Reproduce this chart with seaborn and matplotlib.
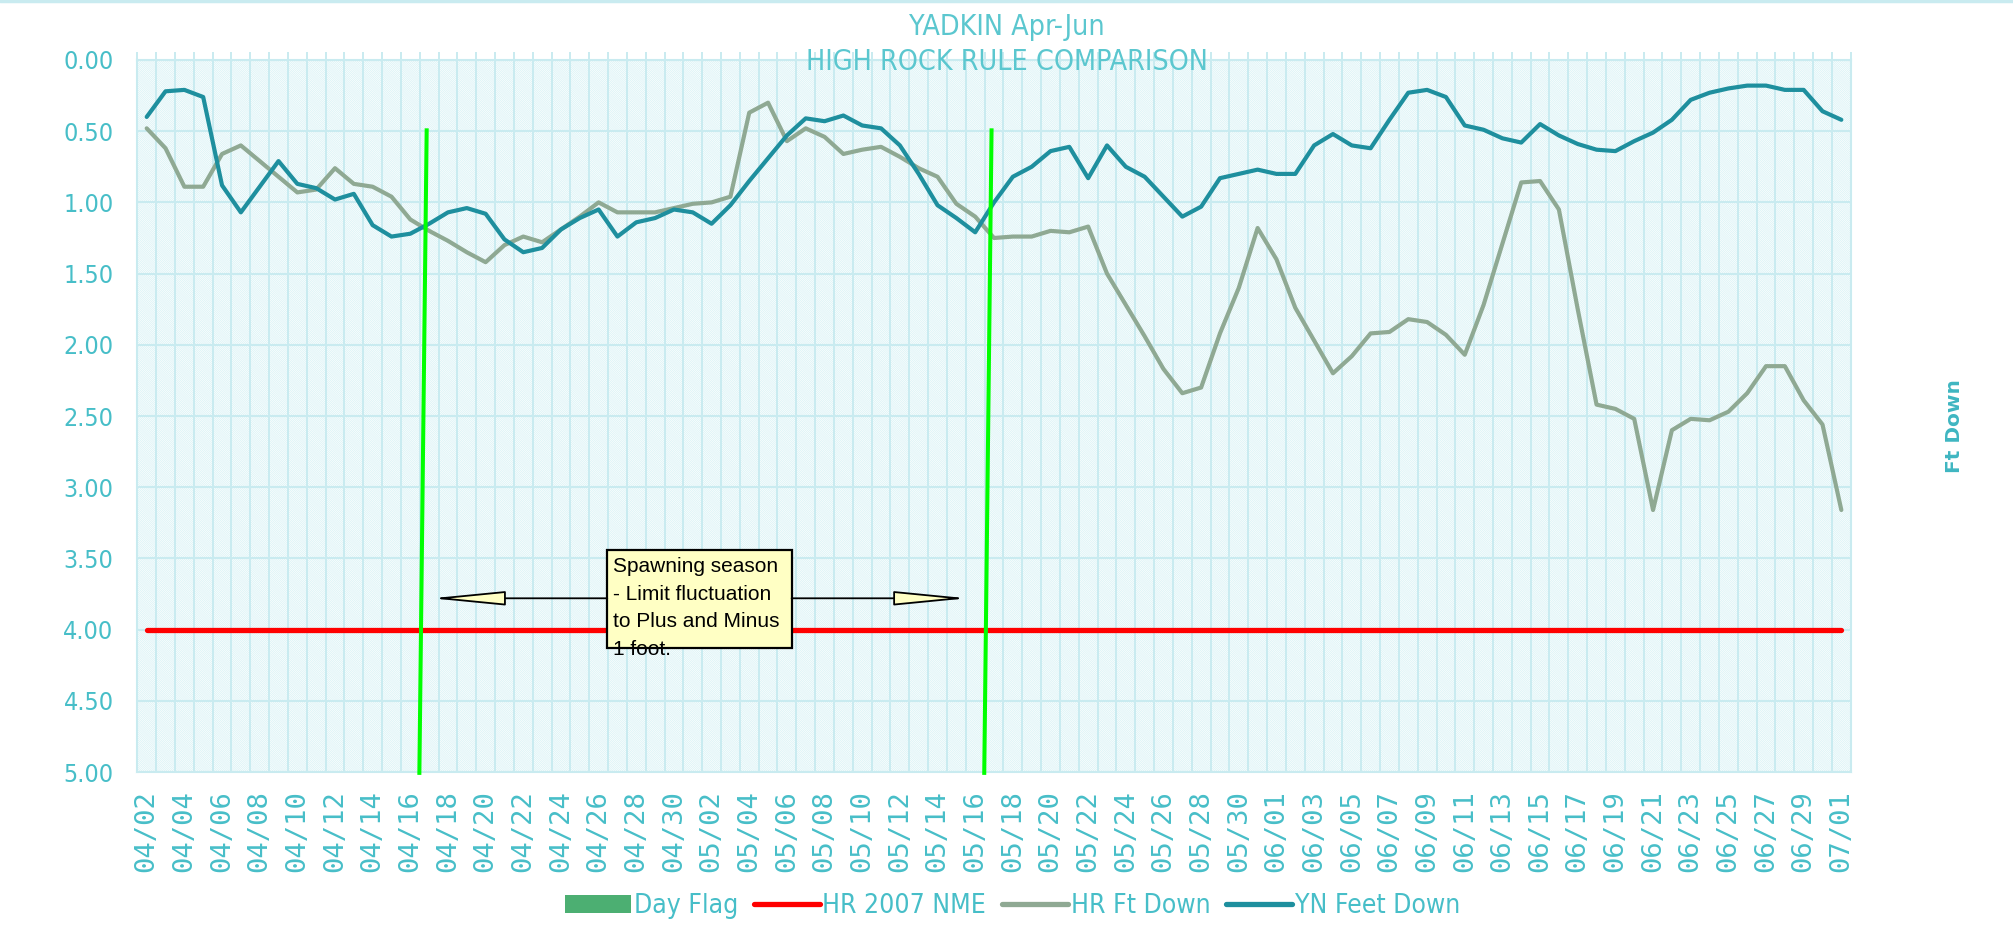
import numpy as np
import pandas as pd
import seaborn as sns
import matplotlib.pyplot as plt
from matplotlib.patches import Rectangle, Patch
import matplotlib.lines as mlines
from matplotlib import font_manager

# categories: one point per day, 04/02 .. 07/01
days = list(pd.date_range('2007-04-02', '2007-07-01').strftime('%m/%d'))

hr_ft_down = [0.48, 0.62, 0.89, 0.89, 0.66, 0.60, 0.71, 0.82, 0.93, 0.91,
              0.76, 0.87, 0.89, 0.96, 1.12, 1.20, 1.27, 1.35, 1.42, 1.30,
              1.24, 1.28, 1.19, 1.10, 1.00, 1.07, 1.07, 1.07, 1.04, 1.01,
              1.00, 0.96, 0.37, 0.30, 0.57, 0.48, 0.54, 0.66, 0.63, 0.61,
              0.68, 0.76, 0.82, 1.01, 1.10, 1.25, 1.24, 1.24, 1.20, 1.21,
              1.17, 1.50, 1.72, 1.94, 2.17, 2.34, 2.30, 1.92, 1.60, 1.18,
              1.40, 1.74, 1.97, 2.20, 2.08, 1.92, 1.91, 1.82, 1.84, 1.93,
              2.07, 1.72, 1.29, 0.86, 0.85, 1.05, 1.75, 2.42, 2.45, 2.52,
              3.16, 2.60, 2.52, 2.53, 2.47, 2.34, 2.15, 2.15, 2.39, 2.56,
              3.16]

yn_feet_down = [0.40, 0.22, 0.21, 0.26, 0.88, 1.07, 0.89, 0.71, 0.87, 0.90,
                0.98, 0.94, 1.16, 1.24, 1.22, 1.15, 1.07, 1.04, 1.08, 1.26,
                1.35, 1.32, 1.19, 1.11, 1.05, 1.24, 1.14, 1.11, 1.05, 1.07,
                1.15, 1.02, 0.85, 0.69, 0.53, 0.41, 0.43, 0.39, 0.46, 0.48,
                0.60, 0.80, 1.02, 1.11, 1.21, 1.00, 0.82, 0.75, 0.64, 0.61,
                0.83, 0.60, 0.75, 0.82, 0.96, 1.10, 1.03, 0.83, 0.80, 0.77,
                0.80, 0.80, 0.60, 0.52, 0.60, 0.62, 0.42, 0.23, 0.21, 0.26,
                0.46, 0.49, 0.55, 0.58, 0.45, 0.53, 0.59, 0.63, 0.64, 0.57,
                0.51, 0.42, 0.28, 0.23, 0.20, 0.18, 0.18, 0.21, 0.21, 0.36,
                0.42]

hr_2007_nme = [4.0] * len(days)

flag_days = ['04/17', '05/17']
flag_top = 0.48

note_text = 'Spawning season\n- Limit fluctuation\nto Plus and Minus\n1 foot.'

df = pd.DataFrame({'day': days, 'HR Ft Down': hr_ft_down,
                   'YN Feet Down': yn_feet_down, 'HR 2007 NME': hr_2007_nme})

TURQ = '#47bec8'
GRID = '#c9ebf0'
TEAL = '#1e8f9e'
GREY = '#8fa993'

sns.set_style('white')
names = {f.name for f in font_manager.fontManager.ttflist}
narrow = 'Liberation Sans Narrow' if 'Liberation Sans Narrow' in names else 'DejaVu Sans'
plt.rcParams['font.family'] = ['DejaVu Sans']
plt.rcParams['hatch.linewidth'] = 0.6
narrow_kw = dict(family=narrow, stretch='condensed')

fig = plt.figure(figsize=(20.13, 9.43), dpi=100)
ax = fig.add_axes([0.0682, 0.1813, 0.8512, 0.7551])

# hatched plot area
ax.add_patch(Rectangle((0, 0), 1, 1, transform=ax.transAxes, facecolor='white',
                       edgecolor='#dbf3f6', linewidth=0, hatch='\\' * 16, zorder=0.2))

sns.lineplot(data=df, x='day', y='HR 2007 NME', color='#ff0000', linewidth=3.8,
             sort=False, ax=ax, zorder=3)
sns.lineplot(data=df, x='day', y='HR Ft Down', color=GREY, linewidth=3.0,
             sort=False, ax=ax, zorder=4)
sns.lineplot(data=df, x='day', y='YN Feet Down', color=TEAL, linewidth=3.0,
             sort=False, ax=ax, zorder=5)

# day flag markers
for d in flag_days:
    i = days.index(d)
    ax.plot([i - 0.13, i - 0.52], [flag_top, 5.02], color='#00ff00', linewidth=2.9,
            zorder=6, clip_on=False, solid_capstyle='butt')

# spawning season note
ax.add_patch(Rectangle((24.46, 3.44), 34.25 - 24.46, 4.127 - 3.44, facecolor='#ffffc4',
                       edgecolor='black', linewidth=1.6, zorder=7))
ax.text(24.78, 3.49, note_text, fontsize=15, family='Liberation Sans', color='black',
        va='top', ha='left', zorder=8, linespacing=1.57)
arrow_kw = dict(arrowstyle='-|>,head_length=4.6,head_width=0.45', fc='#ffffc4',
                ec='black', lw=1.3, shrinkA=0, shrinkB=0)
ax.annotate('', xy=(15.14, 3.78), xytext=(24.46, 3.78), arrowprops=arrow_kw, zorder=8)
ax.annotate('', xy=(43.58, 3.78), xytext=(34.25, 3.78), arrowprops=arrow_kw, zorder=8)

ax.set_xlim(-0.5, len(days) - 0.5)
ax.set_ylim(5, 0)
ax.set_xticks(range(0, len(days), 2))
ax.set_xticklabels(days[::2], rotation=90, fontsize=19.5, color=TURQ,
                   family='DejaVu Sans Mono')
ax.set_xticks(np.arange(-0.5, len(days)), minor=True)
ax.set_yticks(np.arange(0, 5.01, 0.5))
ax.set_yticklabels([f'{v:.2f}' for v in np.arange(0, 5.01, 0.5)], fontsize=18,
                   color=TURQ, **narrow_kw)
ax.tick_params(axis='x', which='major', length=0, pad=13)
ax.tick_params(axis='x', which='minor', top=True, bottom=False, length=6,
               width=1.4, color=GRID, direction='out')
ax.tick_params(axis='y', length=0, pad=17)
ax.grid(True, axis='y', color=GRID, linewidth=1.5)
ax.grid(True, axis='x', which='minor', color=GRID, linewidth=1.4)
ax.set_axisbelow(True)
for s in ax.spines.values():
    s.set_color(GRID)
    s.set_linewidth(1.5)
ax.set_xlabel('')
ax.set_ylabel('')

fig.text(0.5, 0.971, 'YADKIN Apr-Jun', ha='center', va='center', fontsize=20.5,
         color='#5bc7cf', **narrow_kw)
fig.text(0.5, 0.934, 'HIGH ROCK RULE COMPARISON', ha='center', va='center', fontsize=20.5,
         color='#5bc7cf', **narrow_kw)
fig.text(0.971, 0.548, 'Ft Down', rotation=90, ha='center', va='center', fontsize=14.5,
         fontweight='bold', color='#3fb6c1')

fig.add_artist(mlines.Line2D([0, 1], [0.999, 0.999], color=GRID, linewidth=2.5))

handles = [Patch(facecolor='#4caf72', edgecolor='none', label='Day Flag'),
           mlines.Line2D([], [], color='#ff0000', linewidth=3.8, label='HR 2007 NME'),
           mlines.Line2D([], [], color=GREY, linewidth=3.8, label='HR Ft Down'),
           mlines.Line2D([], [], color=TEAL, linewidth=3.8, label='YN Feet Down')]
leg = fig.legend(handles=handles, loc='center', bbox_to_anchor=(0.503, 0.039), ncol=4,
                 frameon=False, handlelength=2.5, handletextpad=0.1, columnspacing=0.6,
                 prop={'family': narrow, 'size': 19, 'stretch': 'condensed'})
for t in leg.get_texts():
    t.set_color(TURQ)

fig.savefig('out.png', dpi=100)
